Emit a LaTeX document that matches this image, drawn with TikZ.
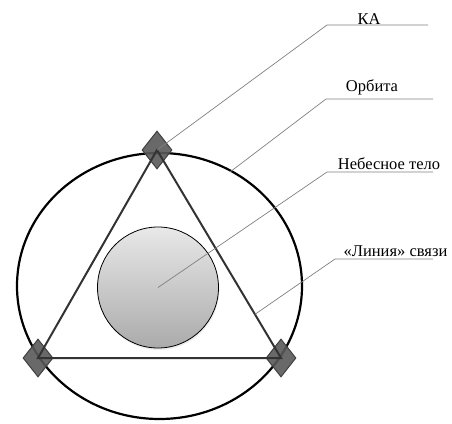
\documentclass[tikz,border=0pt]{standalone}
\usepackage{fontspec}
\setmainfont{Liberation Serif}
\usetikzlibrary{shapes.geometric,calc}
\begin{document}
\begin{tikzpicture}[x=1pt,y=-1pt,
  sat/.style={diamond,draw=black!75,line width=1pt,fill=black!65,fill opacity=0.9,minimum width=30pt,minimum height=38pt,inner sep=0pt},
  orbitline/.style={draw=black,line width=2.2pt},
  link/.style={draw=black!80,line width=2pt},
  leader/.style={draw=black!50,line width=0.7pt},
  lbl/.style={anchor=base,font=\fontsize{16.5}{18}\selectfont,inner sep=0pt}]
\useasboundingbox (0,0) rectangle (452,423);
% planet
\fill[black!7] (158.8,289.5) circle (60.5);
\node[circle,draw=black,line width=0.8pt,minimum size=121pt,inner sep=0pt,top color=black!9,bottom color=black!33] (body) at (158,287.5) {};
% orbit
\node[ellipse,orbitline,minimum width=285pt,minimum height=266pt,inner sep=0pt] (orbit) at (159.5,286) {};
% satellites
\node[sat] (s1) at (157,150) {};
\node[sat] (s2) at (38,358) {};
\node[sat] (s3) at (281,358) {};
% links
\draw[link] (s1.center) -- (s3.center) -- (s2.center) -- cycle;
% leaders
\coordinate (eKA) at (327,25);   \coordinate (fKA) at (428,25);
\coordinate (oP) at (230,172);   \coordinate (eO) at (326,99);  \coordinate (fO) at (433,99);
\coordinate (eN) at (327,172);   \coordinate (fN) at (433,172);
\coordinate (lP) at ($(s1.center)!0.79!(s3.center)$);
\coordinate (eL) at (335,259);   \coordinate (fL) at (433,259);
\draw[leader] (s1.center) -- (eKA) -- (fKA);
\draw[leader] (oP) -- (eO) -- (fO);
\draw[leader] (body.center) -- (eN) -- (fN);
\draw[leader] (lP) -- (eL) -- (fL);
\node[lbl] (tKA) at (369,24) {КА};
\node[lbl] (tO) at (372,91.5) {Орбита};
\node[lbl] (tN) at (389,169.5) {Небесное тело};
\node[lbl] (tL) at (395.5,256) {«Линия» связи};
\end{tikzpicture}
\end{document}
